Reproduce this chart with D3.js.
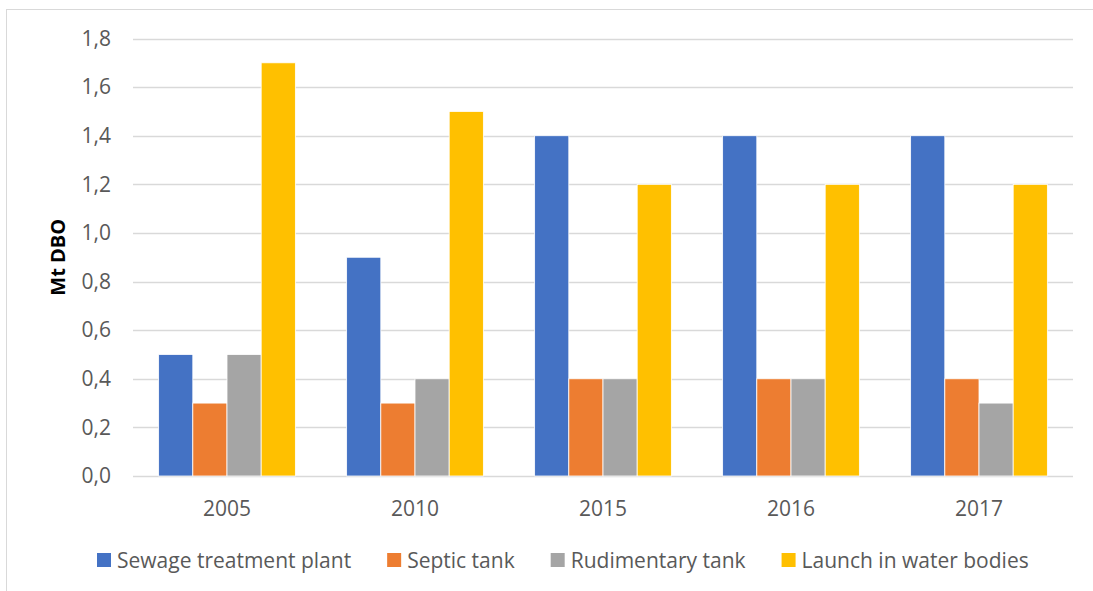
<!DOCTYPE html>
<html>
<head>
<meta charset="utf-8">
<script src="https://cdn.jsdelivr.net/npm/d3@7"></script>
<style>
  html, body { margin: 0; padding: 0; background: #ffffff; }
  svg { display: block; font-family: "Open Sans", "Liberation Sans", sans-serif; }
</style>
</head>
<body>
<svg id="chart" width="1093" height="591"></svg>
<script>
// Annual BOD load (Mt DBO) by sanitation destination
const years = ["2005", "2010", "2015", "2016", "2017"];
const seriesNames = ["Sewage treatment plant", "Septic tank", "Rudimentary tank", "Launch in water bodies"];
const sewageTreatmentPlant = [0.5, 0.9, 1.4, 1.4, 1.4];
const septicTank = [0.3, 0.3, 0.4, 0.4, 0.4];
const rudimentaryTank = [0.5, 0.4, 0.4, 0.4, 0.3];
const launchInWaterBodies = [1.7, 1.5, 1.2, 1.2, 1.2];
const yTicks = [0, 0.2, 0.4, 0.6, 0.8, 1.0, 1.2, 1.4, 1.6, 1.8];
const colors = ["#4472C4", "#ED7D31", "#A5A5A5", "#FFC000"];

const seriesValues = [sewageTreatmentPlant, septicTank, rudimentaryTank, launchInWaterBodies];

const svg = d3.select("#chart");
const textColor = "#595959";
const labelSize = 21;

// chart frame
svg.append("rect")
  .attr("x", 6.5).attr("y", 9.5)
  .attr("width", 1120).attr("height", 620)
  .attr("fill", "#ffffff")
  .attr("stroke", "#d9d9d9").attr("stroke-width", 1);

const plot = { left: 133, right: 1073, top: 38.5, bottom: 476 };

const x0 = d3.scaleBand().domain(years).range([plot.left, plot.right]).paddingInner(0).paddingOuter(0);
// 150% gap width: group occupies 4 / (4 + 1.5) of each category
const groupWidth = x0.bandwidth() * 4 / 5.5;
const x1 = d3.scaleBand().domain(d3.range(seriesNames.length)).range([0, groupWidth]);
const y = d3.scaleLinear().domain([0, 1.8]).range([plot.bottom, plot.top]);

// gridlines
svg.append("g")
  .selectAll("line")
  .data(yTicks)
  .join("line")
  .attr("x1", plot.left).attr("x2", plot.right)
  .attr("y1", d => Math.round(y(d)) + 0.5).attr("y2", d => Math.round(y(d)) + 0.5)
  .attr("stroke", "#d9d9d9").attr("stroke-width", 1.3);

// y axis labels
const fmt = d => d3.format(".1f")(d).replace(".", ",");
const yAxis = d3.axisLeft(y).tickValues(yTicks).tickFormat(fmt).tickSize(0).tickPadding(0);
const yg = svg.append("g").attr("transform", `translate(${plot.left - 22},0)`).call(yAxis);
yg.select(".domain").remove();
yg.selectAll("text").attr("fill", textColor).attr("font-size", labelSize).attr("font-family", "Open Sans");

// bars
const groups = svg.append("g")
  .selectAll("g")
  .data(years)
  .join("g")
  .attr("transform", d => `translate(${x0(d) + (x0.bandwidth() - groupWidth) / 2},0)`);

groups.selectAll("rect")
  .data((d, i) => seriesValues.map((vals, s) => ({ s, v: vals[i] })))
  .join("rect")
  .attr("x", d => x1(d.s))
  .attr("width", x1.bandwidth())
  .attr("y", d => y(d.v))
  .attr("height", d => y(0) - y(d.v))
  .attr("fill", d => colors[d.s])
  .attr("stroke", "#ffffff").attr("stroke-width", 0.8);

// x axis labels
const xAxis = d3.axisBottom(x0).tickSize(0).tickPadding(0);
const xg = svg.append("g").attr("transform", `translate(0,${plot.bottom + 25})`).call(xAxis);
xg.select(".domain").remove();
xg.selectAll("text").attr("fill", textColor).attr("font-size", labelSize).attr("font-family", "Open Sans");

// y axis title, centred on the plot area
svg.append("text")
  .attr("transform", `translate(65,${(plot.top + plot.bottom) / 2}) rotate(-90)`)
  .attr("text-anchor", "middle")
  .attr("font-size", 20).attr("font-weight", "bold")
  .attr("fill", "#000000")
  .text("Mt DBO");

// legend
const legend = svg.append("g").attr("transform", "translate(97,553)");
let cursor = 0;
seriesNames.forEach((name, i) => {
  const item = legend.append("g").attr("transform", `translate(${cursor},0)`);
  item.append("rect").attr("width", 14).attr("height", 14).attr("fill", colors[i]);
  const t = item.append("text")
    .attr("x", 20).attr("y", 15)
    .attr("font-size", labelSize).attr("fill", textColor)
    .text(name);
  cursor += 20 + t.node().getComputedTextLength() + 36;
});
</script>
</body>
</html>
